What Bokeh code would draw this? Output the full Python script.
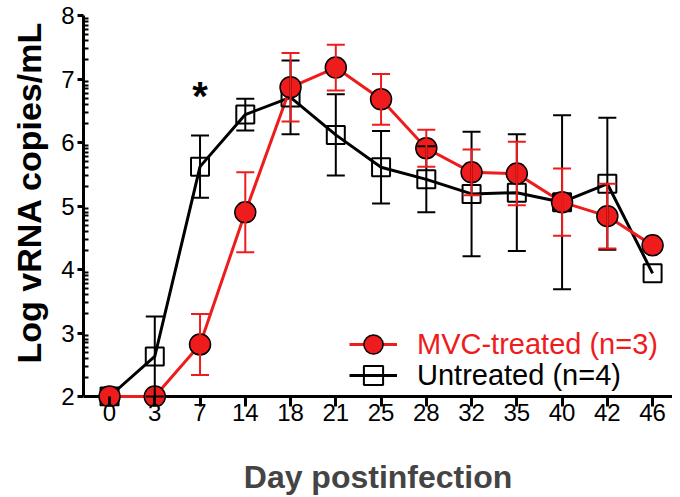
import math
from bokeh.plotting import figure
from bokeh.models import (ColumnDataSource, LinearAxis, FixedTicker, Range1d, Whisker,
                          TeeHead, Legend, LegendItem, Span, Title)
from bokeh.core.properties import value
from bokeh.embed import file_html
from bokeh.resources import INLINE

days = ["0", "3", "7", "14", "18", "21", "25", "28", "32", "35", "40", "42", "46"]
mvc_mean = [2.0, 2.0, 2.82, 4.90, 6.87, 7.18, 6.68, 5.91, 5.53, 5.51, 5.06, 4.84, 4.38]
mvc_sd = [0, 0, 0.48, 0.63, 0.54, 0.36, 0.40, 0.29, 0.36, 0.50, 0.53, 0.51, 0]
unt_mean = [2.0, 2.63, 5.62, 6.44, 6.71, 6.12, 5.61, 5.42, 5.19, 5.21, 5.06, 5.35, 3.94]
unt_sd = [0, 0.63, 0.49, 0.25, 0.58, 0.64, 0.57, 0.52, 0.98, 0.92, 1.37, 1.04, 0]
y_ticks = [2, 3, 4, 5, 6, 7, 8]
star_day = ["7"]
star_y = [6.74]

RED = "#ee1c1c"
FONT = "Liberation Sans"
Y_MIN, Y_MAX = 2.0, 8.0

pos = list(range(len(days)))

FRAME_H = 391
BASE_GAP = 10  # frame bottom sits below the y=2 baseline so markers there are not clipped
px_per_unit = (FRAME_H - BASE_GAP) / (Y_MAX - Y_MIN)
y_start = Y_MIN - BASE_GAP / px_per_unit

p = figure(frame_width=589, frame_height=FRAME_H, output_backend="svg", toolbar_location=None,
           x_axis_type=None, y_axis_type=None,
           x_range=Range1d(-0.575, 12.44), y_range=Range1d(y_start, Y_MAX),
           min_border_left=83, min_border_right=0, min_border_top=15, min_border_bottom=0)
p.outline_line_color = None
p.xgrid.visible = False
p.ygrid.visible = False

minor = [d + math.log10(k) for d in range(2, 8) for k in range(2, 10)]
yaxis = LinearAxis(bounds=(Y_MIN, Y_MAX), ticker=FixedTicker(ticks=y_ticks, minor_ticks=minor))
yaxis.axis_line_width = 3
yaxis.major_tick_line_width = 3
yaxis.major_tick_out = 6
yaxis.major_tick_in = 0
yaxis.minor_tick_in = 5
yaxis.minor_tick_out = 0
yaxis.minor_tick_line_width = 2
yaxis.major_label_text_font = FONT
yaxis.major_label_text_font_size = "24px"
yaxis.major_label_text_color = "black"
yaxis.major_label_standoff = 3
p.add_layout(yaxis, "left")

ytitle = Title(text="Log vRNA copies/mL", align="left", offset=43, vertical_align="top",
               text_font=FONT, text_font_style="bold", text_font_size="34px",
               text_color="black", standoff=18)
p.add_layout(ytitle, "left")

xaxis = LinearAxis(ticker=FixedTicker(ticks=pos, minor_ticks=[]),
                   axis_label="Day postinfection")
xaxis.major_label_overrides = {i: d for i, d in enumerate(days)}
xaxis.axis_line_color = None
xaxis.major_tick_line_width = 3
xaxis.major_tick_out = 0
xaxis.major_tick_in = BASE_GAP
xaxis.minor_tick_out = 0
xaxis.minor_tick_in = 0
xaxis.major_label_text_font = FONT
xaxis.major_label_text_font_size = "24px"
xaxis.major_label_text_color = "black"
xaxis.major_label_standoff = -3
xaxis.axis_label_text_font = FONT
xaxis.axis_label_text_font_style = "bold"
xaxis.axis_label_text_font_size = "32px"
xaxis.axis_label_standoff = 35
p.add_layout(xaxis, "below")

p.add_layout(Span(location=Y_MIN, dimension="width", line_color="black", line_width=3,
                  level="underlay"))

def err_source(mean, sd):
    xs, lo, hi = [], [], []
    for i, (m, s) in enumerate(zip(mean, sd)):
        if s > 0:
            xs.append(i); lo.append(m - s); hi.append(m + s)
    return ColumnDataSource(dict(x=xs, lower=lo, upper=hi))

src = ColumnDataSource(dict(x=pos, day=days, mvc=mvc_mean, unt=unt_mean))

ue = err_source(unt_mean, unt_sd)
p.add_layout(Whisker(source=ue, base="x", lower="lower", upper="upper",
                     line_color="black", line_width=2, level="glyph",
                     upper_head=TeeHead(size=18, line_color="black", line_width=2),
                     lower_head=TeeHead(size=18, line_color="black", line_width=2)))
unt_line = p.line("x", "unt", source=src, line_color="black", line_width=3)

me = err_source(mvc_mean, mvc_sd)
p.add_layout(Whisker(source=me, base="x", lower="lower", upper="upper",
                     line_color=RED, line_width=2, level="glyph",
                     upper_head=TeeHead(size=18, line_color=RED, line_width=2),
                     lower_head=TeeHead(size=18, line_color=RED, line_width=2)))
mvc_line = p.line("x", "mvc", source=src, line_color=RED, line_width=3)

unt_pts = p.scatter("x", "unt", source=src, marker="square", size=18,
                    fill_color=None, line_color="black", line_width=2)
mvc_pts = p.scatter("x", "mvc", source=src, marker="circle", size=21,
                    fill_color=RED, line_color="black", line_width=1.5)

star_x = [days.index(d) for d in star_day]
p.text(x=star_x, y=star_y, text=["*"], text_font=value(FONT), text_font_style="bold",
       text_font_size="40px", text_align="center", text_baseline="middle", text_color="black")

leg1 = Legend(items=[LegendItem(label="MVC-treated (n=3)", renderers=[mvc_line, mvc_pts])],
              location=(266, 38), label_text_color=RED)
leg2 = Legend(items=[LegendItem(label="Untreated (n=4)", renderers=[unt_line, unt_pts])],
              location=(266, 7), label_text_color="black")
for lg in (leg1, leg2):
    lg.label_text_font = FONT
    lg.label_text_font_size = "29px"
    lg.glyph_width = 48
    lg.glyph_height = 48
    lg.label_height = 48
    lg.label_standoff = 20
    lg.padding = 0
    lg.margin = 0
    lg.spacing = 0
    lg.border_line_color = None
    lg.background_fill_alpha = 0
    p.add_layout(lg)

open("out.html", "w").write(file_html(p, INLINE))
